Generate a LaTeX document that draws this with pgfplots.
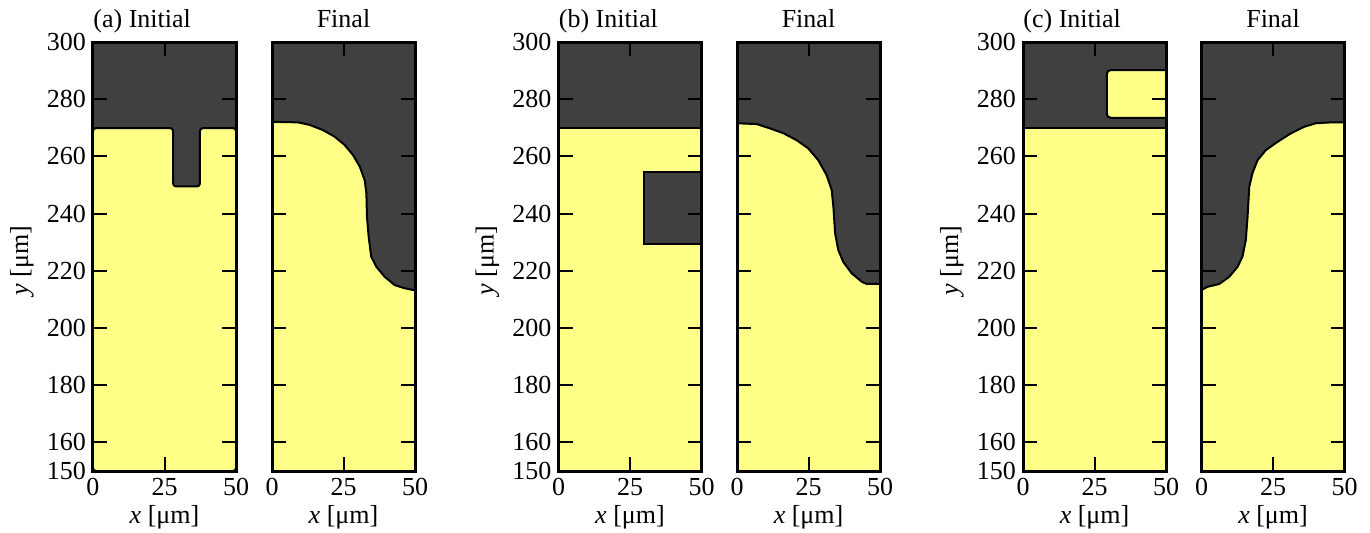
\documentclass[border=0pt]{standalone}
\usepackage{fontspec}
\setmainfont{Liberation Serif}
\usepackage{pgfplots}
\pgfplotsset{compat=1.18}
\definecolor{darkc}{HTML}{404040}
\definecolor{yel}{HTML}{FFFF88}
\newcommand{\fs}{\fontsize{13}{15}\selectfont}
\pgfplotsset{
  panel/.style={
    scale only axis, width=71.5pt, height=214.5pt,
    anchor=south west,
    xmin=0, xmax=50, ymin=150, ymax=300,
    xtick={0,25,50}, ytick={150,160,180,200,220,240,260,280,300},
    tick align=inside, tick pos=both, ticklabel pos=left,
    major tick length=7pt,
    every tick/.style={black, line width=1pt},
    axis line style={line width=1.5pt},
    axis background/.style={fill=darkc},
    axis on top,
    /pgf/number format/assume math mode=true,
    tick label style={font=\fs},
    xlabel={\textit{x} [μm]},
    xlabel style={font=\fs, at={(axis description cs:0.5,-0.1212)}, anchor=base},
    title style={font=\fs, inner xsep=0pt},
    every axis title shift=0pt,
  },
  ini/.style={
    ylabel={\textit{y} [μm]},
    ylabel style={font=\fs, at={(axis description cs:-0.4545,0.49)}, anchor=base, rotate=0},
    title style={at={(axis description cs:0,1)}, anchor=base west, yshift=7.5pt},
  },
  fin/.style={
    yticklabels={},
    title={Final},
    title style={at={(axis description cs:0.5,1)}, anchor=base, yshift=7.5pt},
  },
  region/.style={fill=yel, draw=black, line width=1pt},
}
\begin{document}
\begin{tikzpicture}
\useasboundingbox (0,0) rectangle (685pt,266pt);
% (a) initial
\begin{axis}[panel, ini, at={(46.5pt,30.5pt)}, title={(a) Initial}]
\addplot[region, rounded corners=1.5pt] coordinates {(0,150) (0,269.9) (28,269.9) (28,249.5) (37.4,249.5) (37.4,269.9) (50,269.9) (50,150)} -- cycle;
\end{axis}
% (a) final
\begin{axis}[panel, fin, at={(136pt,30.5pt)}]
\addplot[region] coordinates {(0,150) (0,272.1) (9.1,271.9) (13.2,271.0) (17.8,269.2) (21.9,266.9) (25.4,264.0) (28.3,260.5) (30.7,256.4) (32.4,251.7) (33.0,247.1) (33.2,238.9) (33.8,231.9) (34.7,224.9) (36.5,221.4) (39.4,217.9) (42.9,215.0) (46.4,213.9) (49.3,213.3) (50,213.3) (50,150)} -- cycle;
\end{axis}
% (b) initial
\begin{axis}[panel, ini, at={(279.25pt,30.5pt)}, title={(b) Initial}]
\addplot[region] coordinates {(0,150) (0,270) (50,270) (50,254.7) (30,254.7) (30,229.3) (50,229.3) (50,150)} -- cycle;
\end{axis}
% (b) final
\begin{axis}[panel, fin, at={(368.5pt,30.5pt)}]
\addplot[region] coordinates {(0,150) (0,271.6) (6.9,271.3) (11.5,269.8) (16.2,268.1) (20.8,265.7) (24.9,262.8) (28.4,258.7) (31.3,253.5) (33.1,248.3) (33.7,242.4) (34.3,233.1) (35.4,227.3) (37.1,223.2) (40.1,219.1) (43.6,216.2) (45.3,215.4) (50,215.4) (50,150)} -- cycle;
\end{axis}
% (c) initial
\begin{axis}[panel, ini, at={(511.5pt,30.5pt)}, title={(c) Initial}]
\addplot[region] coordinates {(0,150) (0,270) (50,270) (50,150)} -- cycle;
\addplot[region, rounded corners=2pt] coordinates {(53,290.2) (29.3,290.2) (29.3,273.5) (53,273.5)} -- cycle;
\end{axis}
% (c) final
\begin{axis}[panel, fin, at={(600.75pt,30.5pt)}]
\addplot[region] coordinates {(0,150) (0,213.3) (2.1,214.4) (6.2,215.4) (9.7,217.9) (12.6,221.4) (14.3,224.9) (15.5,230.8) (16.1,238.9) (16.7,249.4) (17.8,254.1) (19.6,258.7) (22.5,262.2) (26.6,265.1) (31.3,268.1) (36.0,270.4) (40.0,271.6) (45.3,271.9) (50,271.9) (50,150)} -- cycle;
\end{axis}
\end{tikzpicture}
\end{document}
